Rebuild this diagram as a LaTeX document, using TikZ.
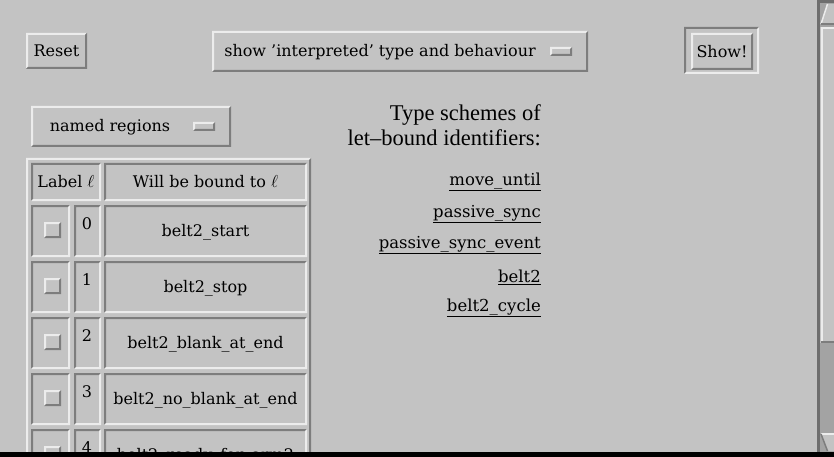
\documentclass[tikz,border=0pt]{standalone}
\usepackage{fontspec}
\setmainfont{DejaVu Serif}
\newfontfamily\uifont{DejaVu Serif}
\newfontfamily\headfont{Liberation Serif}
\definecolor{uibg}{RGB}{195,195,195}
\definecolor{uihi}{RGB}{236,236,236}
\definecolor{uish}{RGB}{125,125,125}
\definecolor{uitrough}{RGB}{163,163,163}
\definecolor{uidark}{RGB}{110,110,110}
\newcommand\uiraised[4]{%
  \fill[uibg] (#1,#2) rectangle (#3,#4);
  \fill[uihi] (#1,#2) -- (#3,#2) -- ({#3-2},{#2+2}) -- ({#1+2},{#2+2}) -- ({#1+2},{#4-2}) -- (#1,#4) -- cycle;
  \fill[uish] (#3,#4) -- (#1,#4) -- ({#1+2},{#4-2}) -- ({#3-2},{#4-2}) -- ({#3-2},{#2+2}) -- (#3,#2) -- cycle;
}
\newcommand\uisunken[4]{%
  \fill[uibg] (#1,#2) rectangle (#3,#4);
  \fill[uish] (#1,#2) -- (#3,#2) -- ({#3-2},{#2+2}) -- ({#1+2},{#2+2}) -- ({#1+2},{#4-2}) -- (#1,#4) -- cycle;
  \fill[uihi] (#3,#4) -- (#1,#4) -- ({#1+2},{#4-2}) -- ({#3-2},{#4-2}) -- ({#3-2},{#2+2}) -- (#3,#2) -- cycle;
}
\tikzset{
  uitext/.style={inner sep=0pt, font=\uifont\fontsize{16}{20}\selectfont},
  headtext/.style={inner sep=0pt, anchor=east, font=\headfont\fontsize{22.5}{26}\selectfont},
  linktext/.style={inner sep=0pt, anchor=east, font=\uifont\fontsize{16.5}{20}\selectfont}
}
\begin{document}
\begin{tikzpicture}[x=1pt,y=-1pt]
\useasboundingbox (0,0) rectangle (834,457);
\clip (0,0) rectangle (834,457);
\fill[uibg] (0,0) rectangle (834,457);

% Reset button
\uiraised{26}{33}{87}{69}
\node[uitext] (reset) at (56.5,51) {Reset};

% show interpreted menu
\uiraised{212}{31}{588}{72}
\node[uitext] (showmenu) at (380,52) {show ’interpreted’ type and behaviour};
\uiraised{550}{47}{572}{56}

% Show! button
\uisunken{684}{27}{759}{74}
\uiraised{691}{33}{753}{70}
\node[uitext] (show) at (722,52) {Show!};

% named regions menu
\uiraised{31}{106}{231}{147}
\node[uitext] (named) at (110,127) {named regions};
\uiraised{193}{122}{215}{131}

% type schemes
\node[headtext] (ts1) at (541,115) {Type schemes of};
\node[headtext] (ts2) at (541,138) {let–bound identifiers:};
\node[linktext] (l1) at (541,182) {\underline{move\_until}};
\node[linktext] (l2) at (541,214) {\underline{passive\_sync}};
\node[linktext] (l3) at (541,245) {\underline{passive\_sync\_event}};
\node[linktext] (l4) at (541,277) {\underline{belt2}};
\node[linktext] (l5) at (541,308) {\underline{belt2\_cycle}};

% table
\uiraised{26}{158}{311}{480}
\uisunken{31}{163}{101}{201}
\uisunken{104}{163}{307}{201}
\node[uitext] (hlabel) at (66,182) {Label $\ell$};
\node[uitext] (hbound) at (205.5,182) {Will be bound to $\ell$};
\foreach \i/\name in {0/belt2\_start,1/belt2\_stop,2/belt2\_blank\_at\_end,3/belt2\_no\_blank\_at\_end,4/belt2\_ready\_for\_arm2}{
  \pgfmathsetmacro\t{205+56*\i}
  \uisunken{31}{\t}{70}{\t+52}
  \uisunken{74}{\t}{101}{\t+52}
  \uisunken{104}{\t}{307}{\t+52}
  \uiraised{44}{\t+17}{61}{\t+33}
  \node[uitext] (num\i) at (87,\t+19) {\i};
  \node[uitext] (name\i) at (205.5,\t+27) {\name};
}

% scrollbar
\fill[uidark] (817,0) rectangle (820,457);
\fill[uidark] (817,0) rectangle (834,3);
\fill[uitrough] (820,3) rectangle (834,452);
% up arrow
\fill[uibg] (827.5,4) -- (834,4) -- (834,24) -- (821,24) -- cycle;
\draw[uihi, line width=1.5] (821,24) -- (827.5,4);
\draw[uish, line width=1.5] (821,24) -- (834,24);
% slider
\fill[uibg] (820,27) rectangle (834,343);
\fill[uihi] (821,27) rectangle (823,343);
\fill[uihi] (821,27) rectangle (834,29);
\fill[uish] (821,341) rectangle (834,343);
% down arrow
\fill[uibg] (821,434) -- (834,434) -- (834,451) -- (827.5,451) -- cycle;
\draw[uihi, line width=1.5] (821,434) -- (834,434);
\draw[uish, line width=1.5] (821,434) -- (827.5,451);

% bottom black edge
\fill[black] (0,452) rectangle (834,457);
\end{tikzpicture}
\end{document}
